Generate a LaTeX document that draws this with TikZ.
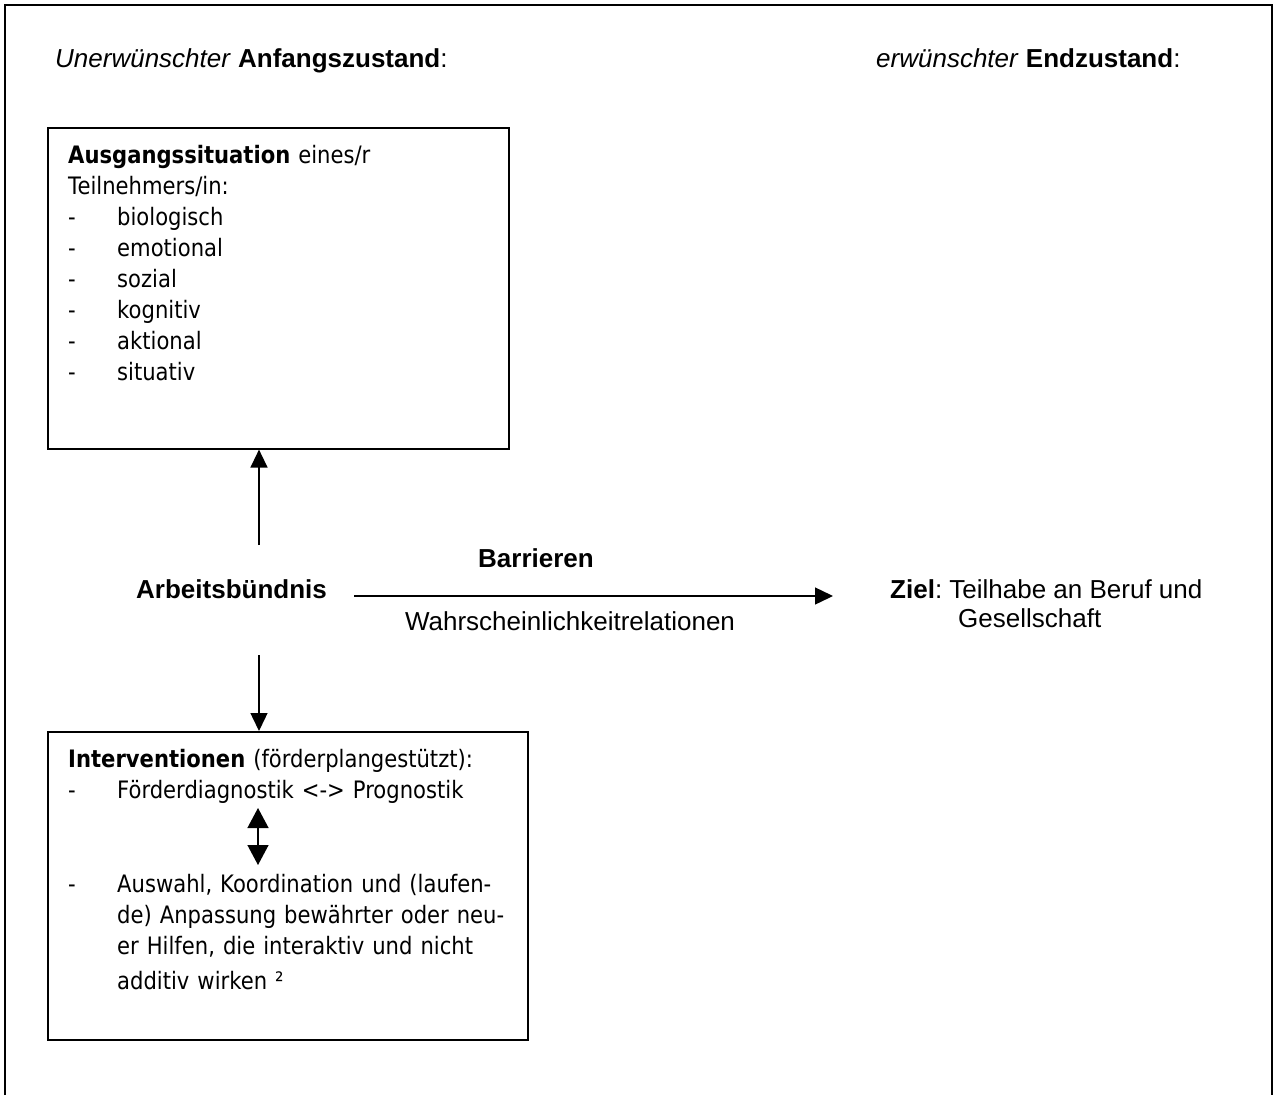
\documentclass[tikz,border=0pt]{standalone}
\usepackage{fontspec}
\setmainfont{Liberation Sans}
\newfontfamily\kastenfont[FakeStretch=0.88]{DejaVu Sans}
\usepackage{tikz}
\usetikzlibrary{arrows.meta, positioning}
\tikzset{
	kasten/.style={draw=black, line width=1.6pt, inner sep=0pt}
}
\tikzset{
	kastentext/.style={inner sep=0pt, anchor=north west, align=left, text width=440pt,
	font=\kastenfont\fontsize{24}{31}\selectfont\frenchspacing}
}
\tikzset{
	beschriftung/.style={inner sep=0pt, font=\fontsize{26}{30}\selectfont\frenchspacing}
}
\tikzset{
	pfeil/.style={line width=1.4pt, -{Triangle[length=18pt,width=17pt]}}
}
\tikzset{
	doppelpfeil/.style={line width=1.4pt, {Triangle[length=20pt,width=21pt]}-{Triangle[length=20pt,width=21pt]}}
}
\newcommand{\strich}{\makebox[49pt][l]{-}}
\newcommand{\einzug}{\hspace*{49pt}}

\begin{document}
\begin{tikzpicture}[x=1pt, y=-1pt]

		\useasboundingbox (0,0) rectangle (1277,1095);

		% outer frame, open at the bottom
		\draw[line width=1.4pt] (5,1095) -- (5,5) -- (1272,5) -- (1272,1095);

		% headings
		\node[beschriftung, anchor=base west] (anfang) at (55,67) {\textit{Unerwünschter} \textbf{Anfangszustand}:};
		\node[beschriftung, anchor=base west] (ende) at (876,67) {\textit{erwünschter} \textbf{Endzustand}:};

		% starting situation
		\node[kasten, minimum width=461pt, minimum height=321pt, anchor=north west] (ausgang) at (47,127) {};
		\node[kastentext] (ausgangtext) at (68,145) {%
			\textbf{Ausgangssituation} eines/r\\
			Teilnehmers/in:\\
			\strich biologisch\\
			\strich emotional\\
			\strich sozial\\
			\strich kognitiv\\
			\strich aktional\\
			\strich situativ};

		% middle row
		\node[beschriftung, anchor=base west] (buendnis) at (136,598) {\textbf{Arbeitsbündnis}};
		\node[beschriftung, anchor=base] (barrieren) at (536,567) {\textbf{Barrieren}};
		\node[beschriftung, anchor=base] (wahrsch) at (570,630) {Wahrscheinlichkeitrelationen};
		\node[beschriftung, anchor=base west] (ziel) at (890,598) {\textbf{Ziel}: Teilhabe an Beruf und};
		\node[beschriftung, anchor=base west] (gesellschaft) at (958,627) {Gesellschaft};

		% interventions
		\node[kasten, minimum width=480pt, minimum height=308pt, anchor=north west] (interv) at (47,731) {};
		\node[kastentext] (intervtext) at (68,749) {%
			\textbf{Interventionen} (förderplangestützt):\\
			\strich Förderdiagnostik <-> Prognostik\\[63pt]
			\strich Auswahl, Koordination und (laufen-\\
			\einzug de) Anpassung bewährter oder neu-\\
			\einzug er Hilfen, die interaktiv und nicht\\[4pt]
			\einzug additiv wirken ²};

		% arrows
		\coordinate (oben) at (259,545);
		\coordinate (unten) at (259,655);
		\draw[pfeil] (oben) -- (oben |- ausgang.south);
		\draw[pfeil] (unten) -- (unten |- interv.north);
		\draw[pfeil] ([xshift=27pt, yshift=2pt]buendnis.base east) -- ([xshift=-57pt, yshift=2pt]ziel.base west);

		\coordinate (dpoben) at (258,808);
		\coordinate (dpunten) at (258,865);
		\draw[doppelpfeil] (dpoben) -- (dpunten);

\end{tikzpicture}
\end{document}
